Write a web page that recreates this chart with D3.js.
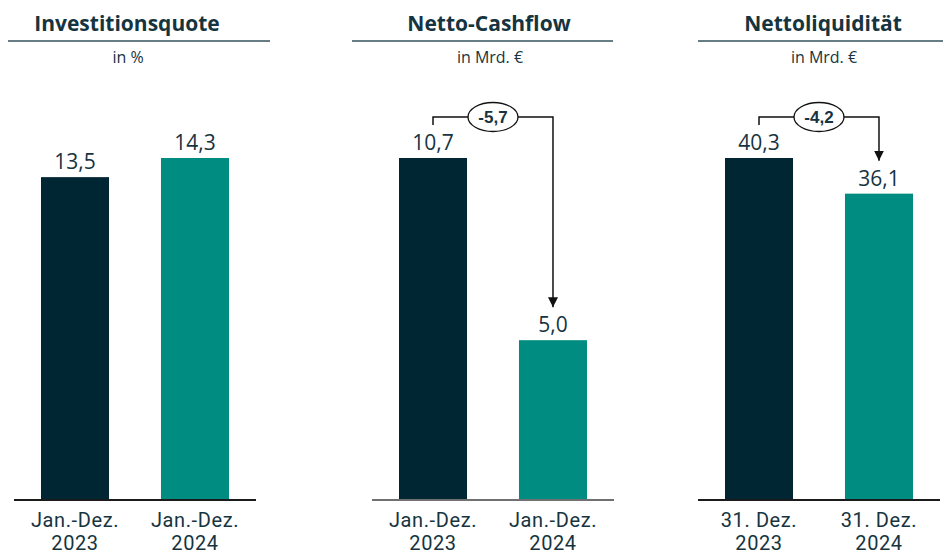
<!DOCTYPE html>
<html><head><meta charset="utf-8">
<script src="https://cdn.jsdelivr.net/npm/d3@7"></script>
<style>html,body{margin:0;padding:0;background:#fff;}svg{display:block;}</style>
</head><body>
<svg id="c" width="944" height="555"></svg>
<script>
// ---- data ----
const titles = ["Investitionsquote", "Netto-Cashflow", "Nettoliquidität"];
const units = ["in %", "in Mrd. €", "in Mrd. €"];
const catLine1 = [["Jan.-Dez.", "Jan.-Dez."], ["Jan.-Dez.", "Jan.-Dez."], ["31. Dez.", "31. Dez."]];
const catLine2 = [["2023", "2024"], ["2023", "2024"], ["2023", "2024"]];
const values1 = [13.5, 14.3];
const values2 = [10.7, 5.0];
const values3 = [40.3, 36.1];
const showDelta = [false, true, true];

// ---- layout ----
const allValues = [values1, values2, values3];
const baseX0 = [14, 372, 698];
const baseW = 242;
const titleCx = [127, 489, 823];
const ruleX = [[8, 270], [352, 613], [698, 943]];
const baseColor = ["#1b1b1b", "#707070", "#1b1b1b"];
const barColors = ["#012633", "#008C80"];
const textColor = "#163440";
const yBase = 500, yTop = 158;
const fmt = v => d3.format(".1f")(v).replace(".", ",").replace("\u2212", "-");
const FONT = "'Open Sans', sans-serif";
const CATFONT = "Roboto, 'Open Sans', sans-serif";

const svg = d3.select("#c");
svg.append("defs").append("marker")
  .attr("id", "arr").attr("viewBox", "0 0 10 10").attr("refX", 10).attr("refY", 5)
  .attr("markerWidth", 10).attr("markerHeight", 10).attr("markerUnits", "userSpaceOnUse")
  .attr("orient", "auto")
  .append("path").attr("d", "M0,0 L10,5 L0,10 Z").attr("fill", "#111");

titles.forEach((t, i) => {
  const vals = allValues[i];
  const g = svg.append("g");
  const x = d3.scaleBand().domain([0, 1]).range([baseX0[i], baseX0[i] + baseW])
    .paddingInner(0.433).paddingOuter(0.225);
  const y = d3.scaleLinear().domain([0, d3.max(vals)]).range([yBase, yTop]);

  g.append("text").attr("x", titleCx[i]).attr("y", 31).attr("text-anchor", "middle")
    .attr("font-family", FONT).attr("font-weight", 700).attr("font-size", 21)
    .attr("fill", textColor).text(t);
  g.append("line").attr("x1", ruleX[i][0]).attr("x2", ruleX[i][1]).attr("y1", 41).attr("y2", 41)
    .attr("stroke", "#34505b").attr("stroke-width", 1.6);
  g.append("text").attr("x", titleCx[i] + 1).attr("y", 63).attr("text-anchor", "middle")
    .attr("font-family", FONT).attr("font-size", 16).attr("fill", textColor).text(units[i]);

  g.selectAll("rect.bar").data(vals).join("rect").attr("class", "bar")
    .attr("x", (d, j) => x(j)).attr("width", x.bandwidth())
    .attr("y", d => y(d)).attr("height", d => yBase - y(d))
    .attr("fill", (d, j) => barColors[j]);

  g.selectAll("text.val").data(vals).join("text").attr("class", "val")
    .attr("x", (d, j) => x(j) + x.bandwidth() / 2).attr("y", d => y(d) - 8)
    .attr("text-anchor", "middle").attr("font-family", FONT).attr("font-size", 21)
    .attr("fill", textColor).text(d => fmt(d));

  g.append("line").attr("x1", baseX0[i]).attr("x2", baseX0[i] + baseW).attr("y1", yBase).attr("y2", yBase)
    .attr("stroke", baseColor[i]).attr("stroke-width", 1.8);

  [0, 1].forEach(j => {
    const cx = x(j) + x.bandwidth() / 2;
    g.append("text").attr("x", cx).attr("y", 526.5).attr("text-anchor", "middle")
      .attr("font-family", CATFONT).attr("font-size", 20).attr("letter-spacing", 0.6)
      .attr("fill", textColor).text(catLine1[i][j]);
    g.append("text").attr("x", cx).attr("y", 550).attr("text-anchor", "middle")
      .attr("font-family", CATFONT).attr("font-size", 20).attr("letter-spacing", 0.6)
      .attr("fill", textColor).text(catLine2[i][j]);
  });

  if (showDelta[i]) {
    const x1 = x(0) + x.bandwidth() / 2, x2 = x(1) + x.bandwidth() / 2;
    const yl = 117;
    const startY = y(vals[0]) - 33;
    const endY = y(vals[1]) - 33;
    g.append("path").attr("d", `M${x1},${startY} V${yl} H${x2} V${endY}`)
      .attr("fill", "none").attr("stroke", "#111").attr("stroke-width", 1.5)
      .attr("marker-end", "url(#arr)");
    const ecx = (x1 + x2) / 2;
    g.append("ellipse").attr("cx", ecx).attr("cy", yl).attr("rx", 25).attr("ry", 14.5)
      .attr("fill", "#fff").attr("stroke", "#111").attr("stroke-width", 1.3);
    g.append("text").attr("x", ecx).attr("y", yl + 6).attr("text-anchor", "middle")
      .attr("font-family", "'Liberation Sans', Arial, sans-serif").attr("font-weight", 700)
      .attr("font-size", 17).attr("fill", textColor).text(fmt(vals[1] - vals[0]));
  }
});
</script>
</body></html>
